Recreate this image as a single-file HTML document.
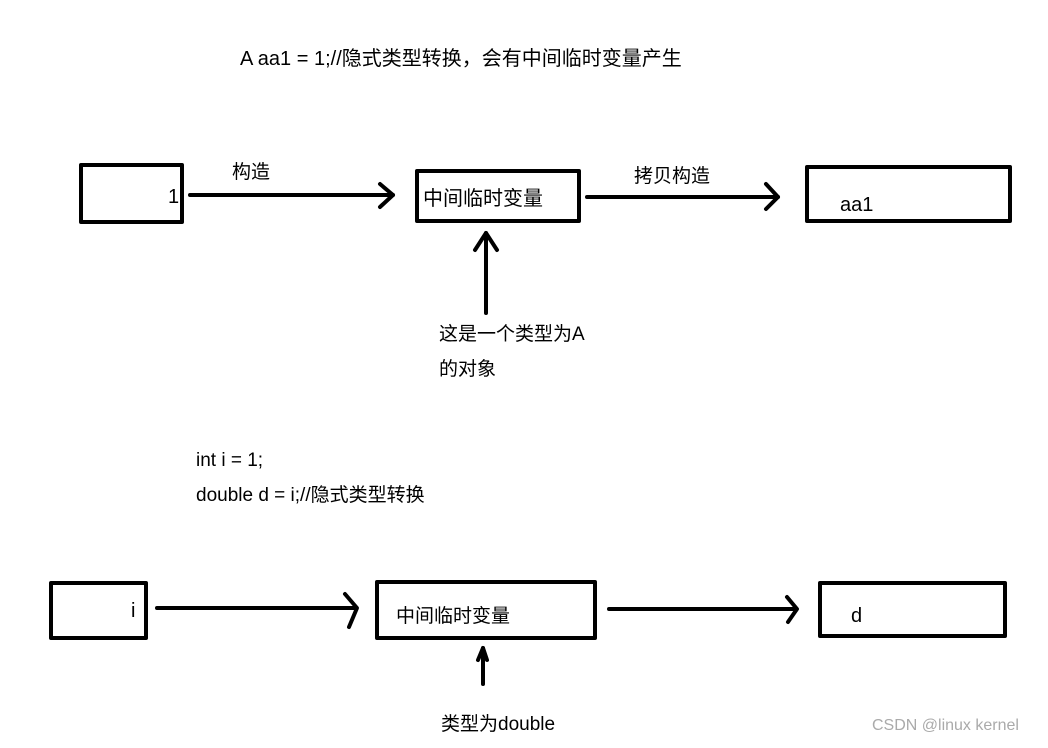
<!DOCTYPE html>
<html><head><meta charset="utf-8"><style>
body{margin:0;background:#fff;}
svg text{font-family:"Liberation Sans","Noto Sans CJK SC",sans-serif;fill:#000;}
</style></head><body>
<svg width="1048" height="743" viewBox="0 0 1048 743" xmlns="http://www.w3.org/2000/svg">
<g fill="none" stroke="#000" stroke-width="4" stroke-linecap="round" stroke-linejoin="round">
<rect x="81" y="165" width="101" height="57"/>
<rect x="417" y="171" width="162" height="50"/>
<rect x="807" y="167" width="203" height="54"/>
<line x1="190" y1="195" x2="393" y2="195"/>
<polyline points="380,184 393,195 380,207"/>
<line x1="587" y1="197" x2="778" y2="197"/>
<polyline points="766,184 778,197 766,209"/>
<line x1="486" y1="313" x2="486" y2="233"/>
<polyline points="475,250 486,233 497,250"/>
<rect x="51" y="583" width="95" height="55"/>
<rect x="377" y="582" width="218" height="56"/>
<rect x="820" y="583" width="185" height="53"/>
<line x1="157" y1="608" x2="356" y2="608"/>
<polyline points="345,594 357,608 349,627"/>
<line x1="609" y1="609" x2="796" y2="609"/>
<polyline points="787,597 797,609 788,622"/>
<line x1="483" y1="684" x2="483" y2="648"/>
<polyline points="478,660 483,648 487,660"/>
</g>
<text x="240" y="65" font-size="20">A aa1 = 1;//隐式类型转换，会有中间临时变量产生</text>
<text x="232" y="178" font-size="19">构造</text>
<text x="634" y="182" font-size="19">拷贝构造</text>
<text x="168" y="203" font-size="20">1</text>
<text x="423" y="205" font-size="20">中间临时变量</text>
<text x="840" y="211" font-size="20">aa1</text>
<text x="439" y="340" font-size="19">这是一个类型为A</text>
<text x="439" y="375" font-size="19">的对象</text>
<text x="196" y="466" font-size="19">int i = 1;</text>
<text x="196" y="501" font-size="19">double d = i;//隐式类型转换</text>
<text x="131" y="617" font-size="20">i</text>
<text x="396" y="622" font-size="19">中间临时变量</text>
<text x="851" y="622" font-size="20">d</text>
<text x="441" y="730" font-size="19">类型为double</text>
<text x="872" y="730" font-size="16" style="fill:#aaa">CSDN @linux kernel</text>
</svg>
</body></html>
